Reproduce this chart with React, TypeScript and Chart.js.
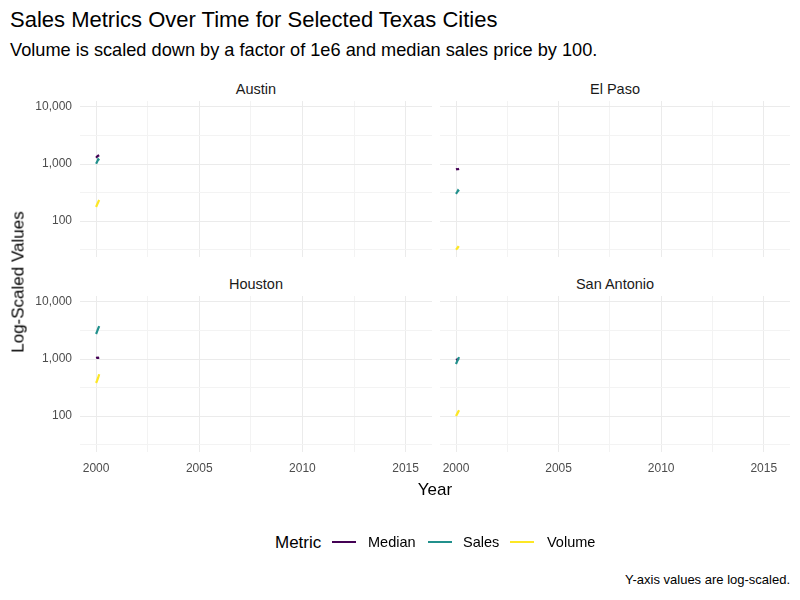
import React, { useEffect, useRef } from "react";
import { Chart, registerables } from "chart.js";
Chart.register(...registerables);

const FONT = "'Liberation Sans', Arial, Helvetica, sans-serif";

// ---- data ----
const cities = ["Austin", "El Paso", "Houston", "San Antonio"];
const metrics = ["Median", "Sales", "Volume"];
const metricColors = ["#440154", "#21908C", "#FDE725"];
const monthX = [2000, 2000.05, 2000.1, 2000.15];

const austinMedian = [1290, 1350, 1400, 1430];
const austinSales = [1010, 1090, 1210, 1150];
const austinVolume = [176, 195, 214, 233];

const elPasoMedian = [805, 815, 810, 820];
const elPasoSales = [300, 320, 345, 330];
const elPasoVolume = [31.5, 33, 35, 34];

const houstonMedian = [1040, 1055, 1050, 1060];
const houstonSales = [2750, 3050, 3400, 3780];
const houstonVolume = [380, 420, 470, 540];

const sanAntonioMedian = [960, 980, 990, 1000];
const sanAntonioSales = [820, 900, 990, 1080];
const sanAntonioVolume = [100, 108, 117, 126];

const cityData = [
  [austinMedian, austinSales, austinVolume],
  [elPasoMedian, elPasoSales, elPasoVolume],
  [houstonMedian, houstonSales, houstonVolume],
  [sanAntonioMedian, sanAntonioSales, sanAntonioVolume],
];

const xTickValues = [2000, 2002.5, 2005, 2007.5, 2010, 2012.5, 2015];
const yTickValues = [31.6227766, 100, 316.227766, 1000, 3162.27766, 10000];
const X_MIN = 1999.22;
const X_MAX = 2016.28;
const Y_MIN = 23.4;
const Y_MAX = 12740;

type PanelProps = {
  idx: number;
  left: number;
  top: number;
  width: number;
  height: number;
  yW: number;
  xH: number;
};

function Panel({ idx, left, top, width, height, yW, xH }: PanelProps) {
  const ref = useRef<HTMLCanvasElement | null>(null);
  useEffect(() => {
    if (!ref.current) return;
    const series = cityData[idx];
    const chart = new Chart(ref.current, {
      type: "line",
      data: {
        datasets: series.map((vals, i) => ({
          label: metrics[i],
          data: vals.map((v, j) => ({ x: monthX[j], y: Math.log10(v) })),
          borderColor: metricColors[i],
          backgroundColor: metricColors[i],
          borderWidth: 2.2,
          pointRadius: 0,
          tension: 0,
          order: series.length - 1 - i,
        })),
      },
      options: {
        responsive: false,
        animation: false,
        devicePixelRatio: 1,
        layout: { padding: 0 },
        plugins: { legend: { display: false }, tooltip: { enabled: false } },
        scales: {
          x: {
            type: "linear",
            min: X_MIN,
            max: X_MAX,
            border: { display: false },
            grid: {
              drawTicks: false,
              color: (c: any) =>
                c.tick && c.tick.value % 5 === 0 ? "#EBEBEB" : "#F3F3F3",
            },
            afterBuildTicks: (s: any) => {
              s.ticks = xTickValues.map((v) => ({ value: v }));
            },
            afterFit: (s: any) => {
              s.height = xH;
              s.paddingLeft = 0;
              s.paddingRight = 0;
            },
            ticks: {
              display: xH > 0,
              autoSkip: false,
              maxRotation: 0,
              padding: 9,
              color: "#4D4D4D",
              font: { family: FONT, size: 12 },
              callback: (v: any) => (Number(v) % 5 === 0 ? String(v) : ""),
            },
          },
          y: {
            type: "linear",
            min: Math.log10(Y_MIN),
            max: Math.log10(Y_MAX),
            border: { display: false },
            grid: {
              drawTicks: false,
              color: (c: any) => {
                const v = c.tick ? c.tick.value : 0;
                return Math.abs(v - Math.round(v)) < 1e-6 ? "#EBEBEB" : "#F3F3F3";
              },
            },
            afterBuildTicks: (s: any) => {
              s.ticks = yTickValues.map((v) => ({ value: Math.log10(v) }));
            },
            afterFit: (s: any) => {
              s.width = yW;
              s.paddingTop = 0;
              s.paddingBottom = 0;
            },
            ticks: {
              display: yW > 0,
              autoSkip: false,
              padding: 8,
              color: "#4D4D4D",
              font: { family: FONT, size: 12 },
              callback: (v: any) => {
                const n = Number(v);
                if (Math.abs(n - Math.round(n)) > 1e-6) return "";
                return Math.round(Math.pow(10, n)).toLocaleString("en-US");
              },
            },
          },
        },
      },
    } as any);
    return () => chart.destroy();
  }, [idx, yW, xH]);
  return (
    <canvas
      ref={ref}
      width={width}
      height={height}
      style={{ position: "absolute", left, top, width, height }}
    />
  );
}

function Txt({
  x,
  y,
  size,
  children,
  align = "center",
  color = "#000",
  rotate = false,
}: any) {
  const tx = align === "center" ? "-50%" : align === "right" ? "-100%" : "0";
  return (
    <div
      style={{
        position: "absolute",
        left: x,
        top: y,
        fontSize: size,
        lineHeight: 1,
        color,
        whiteSpace: "nowrap",
        fontFamily: FONT,
        transform: rotate
          ? "translate(-50%,-50%) rotate(-90deg)"
          : `translate(${tx},-50%)`,
      }}
    >
      {children}
    </div>
  );
}

export default function App() {
  const panels = [
    { idx: 0, left: 0, top: 101, width: 432, height: 156, yW: 80, xH: 0, cx: 256, sy: 89 },
    { idx: 1, left: 440, top: 101, width: 350, height: 156, yW: 0, xH: 0, cx: 615, sy: 89 },
    { idx: 2, left: 0, top: 296, width: 432, height: 184, yW: 80, xH: 28, cx: 256, sy: 284 },
    { idx: 3, left: 440, top: 296, width: 350, height: 184, yW: 0, xH: 28, cx: 615, sy: 284 },
  ];
  const legendKeys = [332, 428, 510];
  const legendText = [368, 463, 547];
  return (
    <div
      style={{
        position: "fixed",
        left: 0,
        top: 0,
        width: 800,
        height: 600,
        background: "#fff",
        overflow: "hidden",
      }}
    >
      <Txt x={10} y={20} size={22} align="left" color="#000">
        Sales Metrics Over Time for Selected Texas Cities
      </Txt>
      <Txt x={10} y={50} size={18.2} align="left" color="#000">
        Volume is scaled down by a factor of 1e6 and median sales price by 100.
      </Txt>
      {panels.map((p) => (
        <React.Fragment key={p.idx}>
          <Panel
            idx={p.idx}
            left={p.left}
            top={p.top}
            width={p.width}
            height={p.height}
            yW={p.yW}
            xH={p.xH}
          />
          <Txt x={p.cx} y={p.sy} size={14.5} color="#1A1A1A">
            {cities[p.idx]}
          </Txt>
        </React.Fragment>
      ))}
      <Txt x={18} y={282} size={17} rotate>
        Log-Scaled Values
      </Txt>
      <Txt x={435} y={489} size={17}>
        Year
      </Txt>
      <Txt x={275} y={542} size={17} align="left">
        Metric
      </Txt>
      {metrics.map((m, i) => (
        <React.Fragment key={m}>
          <div
            style={{
              position: "absolute",
              left: legendKeys[i],
              top: 541,
              width: 24,
              height: 2,
              background: metricColors[i],
            }}
          />
          <Txt x={legendText[i]} y={542} size={14.5} align="left">
            {m}
          </Txt>
        </React.Fragment>
      ))}
      <Txt x={790} y={579} size={13} align="right">
        Y-axis values are log-scaled.
      </Txt>
    </div>
  );
}
